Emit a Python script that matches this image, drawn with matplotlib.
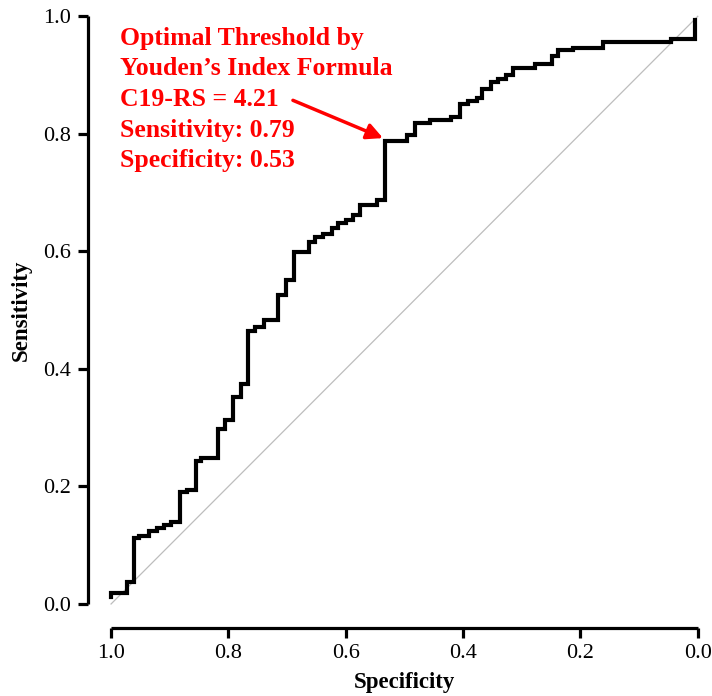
import matplotlib
matplotlib.use("Agg")
import matplotlib.pyplot as plt

plt.rcParams['font.family'] = ['Liberation Serif', 'DejaVu Serif']

# ROC curve corners (x axis is specificity, reversed)
specificity = [1.0, 1.0, 0.972, 0.961, 0.952, 0.935, 0.922, 0.910, 0.897, 0.882,
               0.870, 0.855, 0.846, 0.817, 0.806, 0.792, 0.779, 0.766, 0.754, 0.740,
               0.715, 0.702, 0.688, 0.663, 0.652, 0.638, 0.624, 0.613, 0.600, 0.587,
               0.575, 0.546, 0.533, 0.496, 0.482, 0.457, 0.420, 0.405, 0.391, 0.377,
               0.367, 0.353, 0.340, 0.327, 0.315, 0.278, 0.249, 0.238, 0.212, 0.161,
               0.045, 0.005]
sensitivity = [0.012, 0.019, 0.038, 0.113, 0.116, 0.124, 0.129, 0.134, 0.140, 0.190,
               0.194, 0.244, 0.248, 0.298, 0.313, 0.353, 0.375, 0.464, 0.471, 0.483,
               0.526, 0.552, 0.599, 0.616, 0.625, 0.629, 0.639, 0.649, 0.654, 0.662,
               0.679, 0.688, 0.787, 0.798, 0.819, 0.824, 0.828, 0.850, 0.855, 0.861,
               0.877, 0.889, 0.893, 0.900, 0.912, 0.919, 0.932, 0.942, 0.946, 0.956,
               0.962, 0.993]

ticks = [1.0, 0.8, 0.6, 0.4, 0.2, 0.0]
tick_labels = ["1.0", "0.8", "0.6", "0.4", "0.2", "0.0"]

opt_spec = 0.53
opt_sens = 0.79
note_lines = ["Optimal Threshold by",
              "Youden\u2019s Index Formula",
              "C19-RS = 4.21",
              "Sensitivity: 0.79",
              "Specificity: 0.53"]

fig = plt.figure(figsize=(7.12, 6.96), dpi=100)
# R-style plot region: 4% padding around [0, 1], axes drawn only over [0, 1]
ax = fig.add_axes([0.123, 0.0984, 0.890, 0.912])
ax.set_xlim(1.04, -0.04)
ax.set_ylim(-0.04, 1.04)

ax.plot([1, 0], [0, 1], color='#bdbdbd', lw=0.9, zorder=1)
ax.plot(specificity, sensitivity, drawstyle='steps-post', color='black',
        lw=3.0, solid_joinstyle='miter', zorder=2)

for side in ['top', 'right']:
    ax.spines[side].set_visible(False)
for side in ['left', 'bottom']:
    ax.spines[side].set_linewidth(2.3)
    ax.spines[side].set_bounds(0, 1)
    ax.spines[side].set_capstyle('butt')

ax.set_xticks(ticks)
ax.set_xticklabels(tick_labels)
ax.set_yticks(ticks)
ax.set_yticklabels(tick_labels)
ax.tick_params(axis='both', direction='out', length=7, width=2.3,
               labelsize=16, pad=5)

ax.set_xlabel("Specificity", fontsize=16.5, fontweight='bold', labelpad=6)
ax.set_ylabel("Sensitivity", fontsize=16.5, fontweight='bold', labelpad=8)

ax.text(0.985, 0.982, "\n".join(note_lines), color='red', fontsize=18.5,
        fontweight='bold', ha='left', va='top', linespacing=1.42)
ax.annotate("", xy=(opt_spec, opt_sens), xytext=(0.69, 0.857),
            arrowprops=dict(arrowstyle='-|>', color='red', lw=2.5,
                            mutation_scale=24, shrinkA=0, shrinkB=3))

fig.savefig("out.png", dpi=100)
